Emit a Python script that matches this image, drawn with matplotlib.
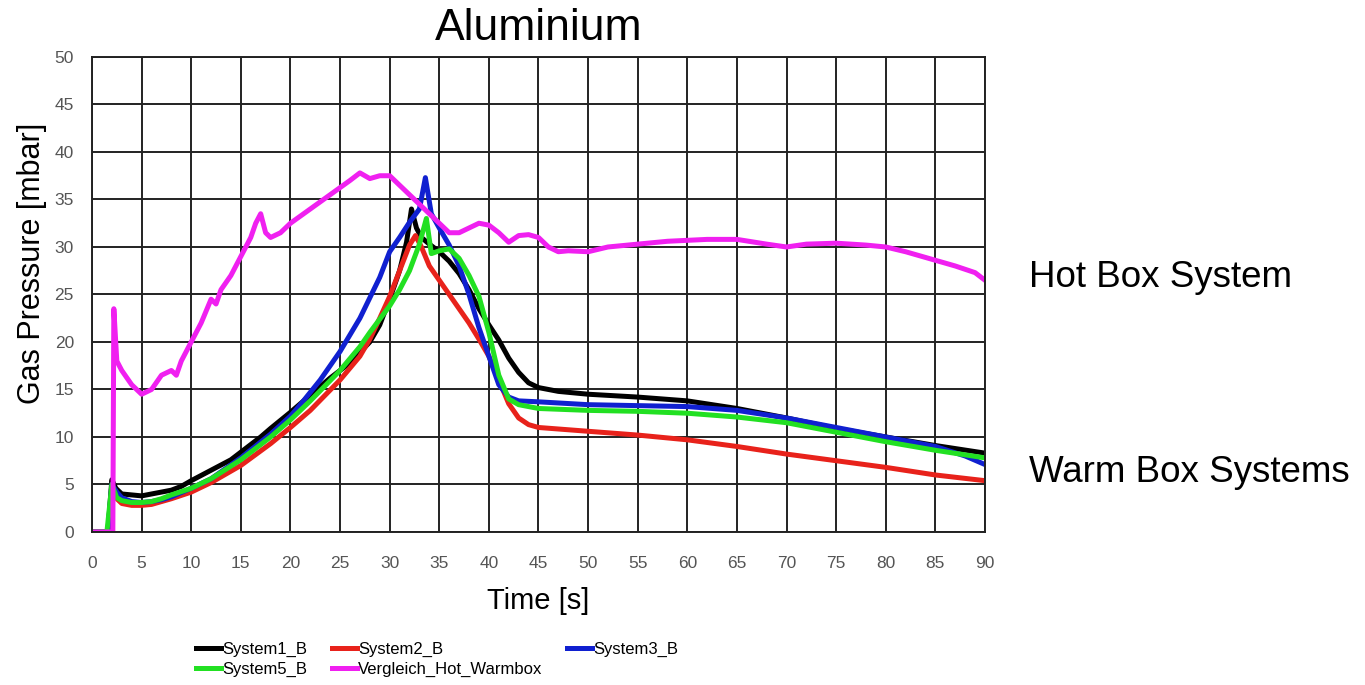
import matplotlib
matplotlib.use("Agg")
import matplotlib.pyplot as plt

plt.rcParams['font.family'] = ['Liberation Sans', 'DejaVu Sans']

# --- data (time [s], pressure [mbar]) ---
s1_t = [0, 1.6, 2.0, 2.4, 3, 4, 5, 6, 7, 8, 9, 10, 12, 14, 15, 17, 18, 20, 22, 24, 25, 26, 27, 28, 29,
        30, 31, 31.7, 32.2, 32.7, 33.2, 34, 35, 36, 37, 38, 39, 40, 41, 42, 43, 44, 45, 47, 50, 55,
        60, 65, 70, 75, 80, 85, 90]
s1_p = [0, 0, 5.5, 4.6, 4.0, 3.9, 3.8, 4.0, 4.2, 4.4, 4.8, 5.4, 6.5, 7.6, 8.4, 10.0, 10.9, 12.6, 14.4, 16.2,
        17.0, 17.8, 18.9, 20.0, 21.8, 24.5, 27.5, 30.5, 34.0, 32.0, 31.0, 30.3, 29.5, 28.5, 27.2, 25.5, 23.5,
        21.8, 20.2, 18.3, 16.8, 15.7, 15.2, 14.8, 14.5, 14.2, 13.8, 13.0, 12.0, 10.9, 10.0, 9.1, 8.3]

s2_t = [0, 1.6, 2.0, 2.5, 3, 4, 5, 6, 7, 8, 10, 12, 15, 18, 20, 22, 25, 27, 28, 29, 30, 31, 32, 32.6,
        33.2, 34, 35, 36, 37, 38, 39, 40, 41, 42, 43, 44, 45, 50, 55, 60, 65, 70, 75, 80, 85, 90]
s2_p = [0, 0, 4.5, 3.5, 3.0, 2.8, 2.8, 2.9, 3.2, 3.5, 4.2, 5.2, 7.0, 9.3, 11.0, 12.8, 16.0, 18.5, 20.3,
        22.5, 24.8, 27.5, 30.2, 31.2, 30.0, 28.0, 26.5, 25.0, 23.5, 22.0, 20.3, 18.5, 16.0, 13.5, 12.0,
        11.3, 11.0, 10.6, 10.2, 9.7, 9.0, 8.2, 7.5, 6.8, 6.0, 5.4]

s3_t = [0, 1.6, 2.0, 2.5, 3, 4, 5, 6, 7, 8, 10, 12, 15, 18, 20, 21, 23, 25, 27, 29, 30, 31, 32, 33,
        33.6, 34.2, 35, 36, 37, 38, 39, 40, 41, 42, 43, 45, 50, 55, 60, 65, 70, 75, 80, 85, 88, 90]
s3_p = [0, 0, 5.0, 4.2, 3.6, 3.2, 3.1, 3.2, 3.4, 3.7, 4.6, 5.6, 7.8, 10.3, 12.2, 13.4, 16.0, 19.0, 22.5,
        26.8, 29.5, 31.0, 32.6, 34.0, 37.3, 33.5, 32.0, 30.2, 28.0, 25.0, 21.5, 18.5, 15.5, 14.2, 13.8,
        13.7, 13.4, 13.3, 13.2, 12.8, 12.0, 11.0, 10.0, 9.0, 8.0, 7.1]

s5_t = [0, 1.5, 2.0, 2.5, 3, 4, 5, 6, 7, 8, 10, 12, 15, 18, 20, 22, 25, 27, 28, 30, 31, 32, 33, 33.7,
        34.2, 35, 36, 37, 38, 39, 40, 41, 42, 43, 45, 50, 55, 60, 65, 70, 75, 80, 85, 90]
s5_p = [0, 0, 5.0, 3.6, 3.3, 3.1, 3.1, 3.2, 3.5, 3.9, 4.6, 5.6, 7.6, 10.0, 11.8, 13.8, 17.0, 19.5, 21.0,
        23.8, 25.5, 27.5, 30.3, 33.0, 29.3, 29.6, 29.8, 28.8, 27.0, 24.8, 21.0, 16.5, 14.0, 13.4, 13.0,
        12.8, 12.7, 12.5, 12.1, 11.5, 10.5, 9.5, 8.6, 7.8]

hot_t = [0, 2.1, 2.2, 2.5, 3, 4, 5, 6, 7, 8, 8.5, 9, 10, 11, 12, 12.5, 13, 14, 15, 16, 16.5, 17, 17.5,
         18, 19, 20, 22, 24, 26, 27, 28, 29, 30, 31, 32, 33, 34, 35, 36, 37, 38, 39, 40, 41, 42, 43,
         44, 45, 46, 47, 48, 50, 52, 55, 58, 60, 62, 65, 68, 70, 72, 75, 78, 80, 82, 85, 87, 89, 90]
hot_p = [0, 0, 23.5, 18.0, 17.0, 15.5, 14.5, 15.0, 16.5, 17.0, 16.5, 18.0, 20.0, 22.0, 24.5, 24.0, 25.5,
         27.0, 29.0, 31.0, 32.5, 33.5, 31.5, 31.0, 31.5, 32.5, 34.0, 35.5, 37.0, 37.8, 37.2, 37.5, 37.5,
         36.5, 35.5, 34.5, 33.5, 32.5, 31.5, 31.5, 32.0, 32.5, 32.3, 31.5, 30.5, 31.2, 31.3, 31.0, 30.0,
         29.5, 29.6, 29.5, 30.0, 30.3, 30.6, 30.7, 30.8, 30.8, 30.3, 30.0, 30.3, 30.4, 30.2, 30.0, 29.5,
         28.6, 28.0, 27.3, 26.5]

x_ticks = list(range(0, 91, 5))
y_ticks = list(range(0, 51, 5))

fig = plt.figure(figsize=(13.65, 6.85), dpi=100)
ax = fig.add_axes([0.0674, 0.2234, 0.6542, 0.6934])

lw = 3.6
l1, = ax.plot(s1_t, s1_p, color='black', lw=lw, label='System1_B')
l2, = ax.plot(s2_t, s2_p, color='#e8221b', lw=lw, label='System2_B')
l3, = ax.plot(s3_t, s3_p, color='#1020d0', lw=lw, label='System3_B')
l5, = ax.plot(s5_t, s5_p, color='#22e022', lw=lw, label='System5_B')
lh, = ax.plot(hot_t, hot_p, color='#f020f0', lw=lw, label='Vergleich_Hot_Warmbox')

ax.set_xlim(0, 90)
ax.set_ylim(0, 50)
ax.set_xticks(x_ticks)
ax.set_yticks(y_ticks)
ax.grid(True, color='#222222', lw=1.4)
ax.set_axisbelow(True)
ax.tick_params(axis='both', length=0, labelsize=12.5, labelcolor='#555555')
ax.tick_params(axis='x', pad=17)
ax.tick_params(axis='y', pad=13)
for sp in ax.spines.values():
    sp.set_color('#222222')
    sp.set_linewidth(1.4)

ax.set_xlabel('Time [s]', fontsize=21, labelpad=12)
ax.set_ylabel('Gas Pressure [mbar]', fontsize=22)
ax.yaxis.set_label_coords(-0.05, 0.566)
ax.set_title('Aluminium', fontsize=32, pad=12)

fig.text(0.754, 0.595, 'Hot Box System', fontsize=26.5, va='center')
fig.text(0.754, 0.31, 'Warm Box Systems', fontsize=26.5, va='center')

ax.legend(handles=[l1, l5, l2, lh, l3], ncol=3, frameon=False, fontsize=12,
          loc='upper left', bbox_to_anchor=(0.1, -0.199), handlelength=1.5,
          handletextpad=0.05, columnspacing=1.5, labelspacing=0.3)

fig.savefig('out.png', dpi=100)
